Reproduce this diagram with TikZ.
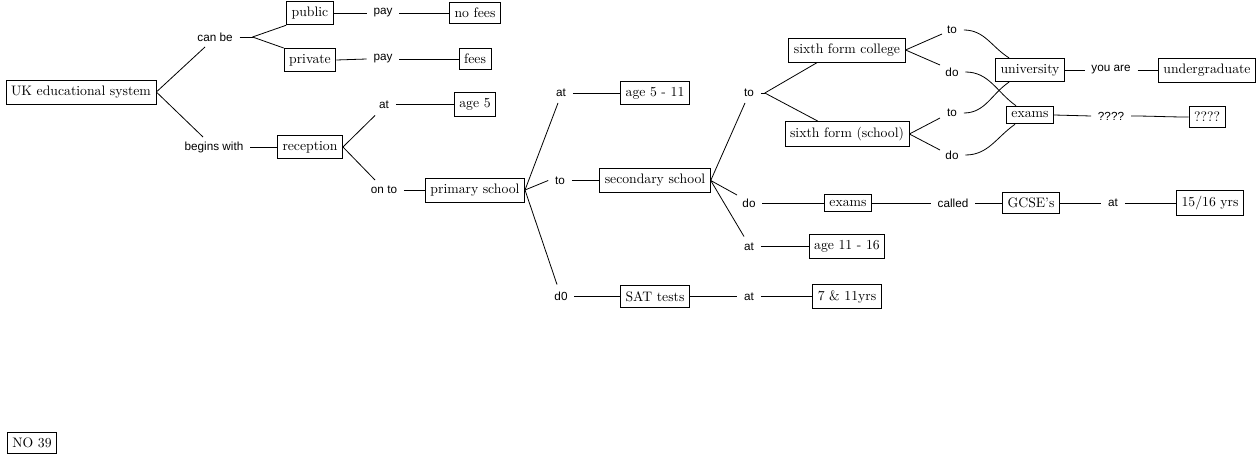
\documentclass[tikz,border=0pt]{standalone}
\usepackage{fontspec}
\newfontfamily\lblfont{Liberation Sans}
\usetikzlibrary{calc}
\begin{document}
\begin{tikzpicture}[x=0.75pt,y=-0.75pt,
  box/.style={draw, line width=0.6pt, inner xsep=3.8pt, inner ysep=4.3pt, font=\fontsize{10.3}{12}\selectfont},
  lbl/.style={inner xsep=5pt, inner ysep=1pt, font=\lblfont\fontsize{8.8}{11}\selectfont},
  conn/.style={line width=0.6pt}]
\useasboundingbox (0,0) rectangle (1259,456);
% concept boxes
\node[box] (uk) at (81,92) {UK educational system};
\node[box] (public) at (310,13) {public};
\node[box] (private) at (310,60) {private};
\node[box] (nofees) at (475,13) {no fees};
\node[box] (fees) at (475,59) {fees};
\node[box] (age5) at (475,104.5) {age 5};
\node[box] (reception) at (310,147) {reception};
\node[box] (primary) at (475,190) {primary school};
\node[box] (age511) at (655,93) {age 5 - 11};
\node[box] (secondary) at (655,180.5) {secondary school};
\node[box] (sat) at (655,296.5) {SAT tests};
\node[box] (sfc) at (847,50) {sixth form college};
\node[box] (sfs) at (847,134) {sixth form (school)};
\node[box] (univ) at (1030,70) {university};
\node[box] (undergrad) at (1207,70) {undergraduate};
\node[box] (examsA) at (1030,115) {exams};
\node[box] (qbox) at (1207,117) {????};
\node[box] (examsB) at (848,203) {exams};
\node[box] (gcse) at (1031,203) {GCSE's};
\node[box] (yrs1516) at (1210,203) {15/16 yrs};
\node[box] (age1116) at (847,246.5) {age 11 - 16};
\node[box] (yrs711) at (847,296.5) {7 \& 11yrs};
\node[box] (no39) at (32,443) {NO 39};
% linking phrases
\node[lbl] (canbe) at (215,37) {can be};
\node[lbl] (beginswith) at (214,147) {begins with};
\node[lbl] (pay1) at (383,13) {pay};
\node[lbl] (pay2) at (383,59) {pay};
\node[lbl] (at1) at (384,104.5) {at};
\node[lbl] (onto) at (384,190) {on to};
\node[lbl] (at2) at (561,93) {at};
\node[lbl] (to1) at (560,180.5) {to};
\node[lbl] (d0) at (561,296.5) {d0};
\node[lbl] (to2) at (749,93) {to};
\node[lbl] (do1) at (749,203) {do};
\node[lbl] (at3) at (749,246.5) {at};
\node[lbl] (at4) at (749,296.5) {at};
\node[lbl] (toA) at (952,30) {to};
\node[lbl] (doA) at (952,72) {do};
\node[lbl] (toB) at (952,113) {to};
\node[lbl] (doB) at (952,155) {do};
\node[lbl] (called) at (953,203) {called};
\node[lbl] (at5) at (1113,203) {at};
\node[lbl] (youare) at (1111,70) {you are};
\node[lbl] (qlabel) at (1111,116) {????};
% connectors
\begin{scope}[conn]
\draw (uk.east) -- ($(canbe)+(-10,10)$);
\draw (uk.east) -- ($(beginswith)+(-11,-10)$);
\draw (canbe.east) -- ++(13,0) coordinate (f1);
\draw (f1) -- (public.south west);
\draw (f1) -- (private.north west);
\draw (public.east) -- (pay1.west);
\draw (pay1.east) -- (nofees.west);
\draw (private.east) -- (pay2.west);
\draw (pay2.east) -- (fees.west);
\draw (beginswith.east) -- (reception.west);
\draw (reception.east) -- ($(at1)+(-9,11)$);
\draw (at1.east) -- (age5.west);
\draw (reception.east) -- ($(onto)+(-9,-10)$);
\draw (onto.east) -- (primary.west);
\draw (primary.east) -- ($(at2)+(-3,10)$);
\draw (primary.east) -- (to1.west);
\draw (primary.east) -- ($(d0)+(-4,-12)$);
\draw (at2.east) -- (age511.west);
\draw (to1.east) -- (secondary.west);
\draw (d0.east) -- (sat.west);
\draw (sat.east) -- (at4.west);
\draw (at4.east) -- (yrs711.west);
\draw (secondary.east) -- ($(to2)+(-4,10)$);
\draw (secondary.east) -- ($(do1)+(-12,-8)$);
\draw (secondary.east) -- ($(at3)+(-5,-10)$);
\draw (do1.east) -- (examsB.west);
\draw (at3.east) -- (age1116.west);
\draw (examsB.east) -- (called.west);
\draw (called.east) -- (gcse.west);
\draw (gcse.east) -- (at5.west);
\draw (at5.east) -- (yrs1516.west);
\draw (to2.east) -- ++(4,0) coordinate (f2);
\draw (f2) -- ($(sfc.south west)+(29,0)$);
\draw (f2) -- ($(sfs.north west)+(33,0)$);
\draw (sfc.east) -- ($(toA)+(-10,4)$);
\draw (sfc.east) -- ($(doA)+(-12,-7)$);
\draw (sfs.east) -- ($(toB)+(-12,5)$);
\draw (sfs.east) -- ($(doB)+(-12,-5)$);
\draw (toA.east) to[out=0,in=148] ($(univ.north west)+(14,0)$);
\draw (doA.east) to[out=0,in=145] ($(examsA.north west)+(10,0)$);
\draw (toB.east) to[out=0,in=-146] ($(univ.south west)+(14,0)$);
\draw (doB.east) to[out=0,in=-145] ($(examsA.south west)+(9,0)$);
\draw (univ.east) -- (youare.west);
\draw (youare.east) -- (undergrad.west);
\draw (examsA.east) -- (qlabel.west);
\draw (qlabel.east) to[out=0,in=180] (qbox.west);
\end{scope}
\end{tikzpicture}
\end{document}
